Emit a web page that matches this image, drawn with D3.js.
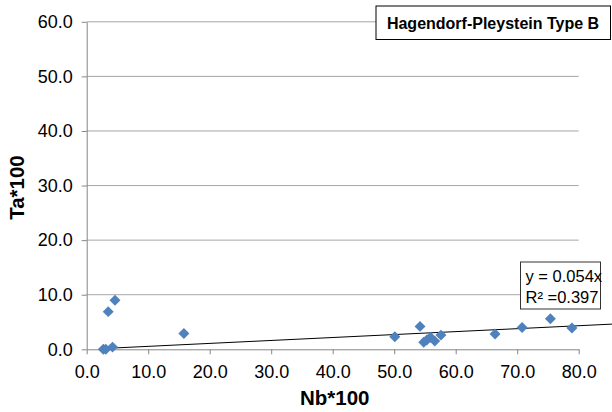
<!DOCTYPE html>
<html>
<head>
<meta charset="utf-8">
<script src="https://cdn.jsdelivr.net/npm/d3@7"></script>
<style>
	html, body { margin: 0; padding: 0; background: #fff; }
	svg { display: block; font-family: 'Liberation Sans', Arial, Helvetica, sans-serif; }
</style>
</head>
<body>
<div id="app"></div>
<script>
// points (Nb*100, Ta*100)
const nbValues = [2.7, 3.1, 3.5, 4.2, 4.6, 15.8, 50.1, 54.2, 54.8, 55.3, 55.9, 56.6, 57.6, 66.4, 70.8, 75.4, 78.9];
const taValues = [0.0, 0.0, 6.9, 0.4, 9.0, 2.9, 2.3, 4.2, 1.3, 1.7, 2.2, 1.5, 2.6, 2.8, 4.0, 5.6, 3.9];

const xTicks = [0, 10, 20, 30, 40, 50, 60, 70, 80];
const yTicks = [0, 10, 20, 30, 40, 50, 60];

// linear trend through the origin, as in the label
const slope = 0.054;
const trendLabel = ['y = 0.054x', 'R\u00b2 =0.397'];
const seriesName = 'Hagendorf-Pleystein Type B';

const width = 612;
const height = 412;
const margin = { top: 21.8, right: 33.3, bottom: 62.7, left: 86.7 };

const app = d3.select('div#app');

const svg = app
	.append('svg')
	.attr('width', width)
	.attr('height', height);

const x = d3
	.scaleLinear()
	.domain([0, 80])
	.range([margin.left, width - margin.right]);

const y = d3
	.scaleLinear()
	.domain([0, 60])
	.range([height - margin.bottom, margin.top]);

const fmt = d3.format('.1f');

// horizontal gridlines
svg
	.append('g')
	.selectAll('line')
	.data(yTicks.filter((d) => d > 0))
	.join('line')
	.attr('x1', x(0))
	.attr('x2', x(80))
	.attr('y1', (d) => y(d))
	.attr('y2', (d) => y(d))
	.attr('stroke', '#a6a6a6')
	.attr('stroke-width', 1);

// axes
const styleAxis = (g) => {
	g.select('.domain').attr('stroke', '#868686');
	g.selectAll('.tick line').attr('stroke', '#868686');
	g.selectAll('.tick text')
		.attr('fill', '#000')
		.style('font-size', '18px');
};

svg
	.append('g')
	.attr('transform', `translate(0, ${y(0)})`)
	.call(
		d3.axisBottom(x).tickValues(xTicks).tickFormat(fmt).tickSize(5).tickSizeOuter(0).tickPadding(11),
	)
	.call(styleAxis);

svg
	.append('g')
	.attr('transform', `translate(${x(0)}, 0)`)
	.call(
		d3.axisLeft(y).tickValues(yTicks).tickFormat(fmt).tickSize(5).tickSizeOuter(0).tickPadding(9),
	)
	.call(styleAxis);

// axis titles
svg
	.append('text')
	.attr('x', (x(0) + x(80)) / 2 + 2)
	.attr('y', 405)
	.attr('text-anchor', 'middle')
	.style('font-size', '20.5px')
	.style('font-weight', 'bold')
	.text('Nb*100');

svg
	.append('text')
	.attr('transform', `translate(24, ${y(30) + 2}) rotate(-90)`)
	.attr('text-anchor', 'middle')
	.style('font-size', '20.5px')
	.style('font-weight', 'bold')
	.text('Ta*100');

// points
const points = nbValues.map((d, i) => ({ nb: d, ta: taValues[i] }));

// trendline from smallest Nb onward, clipped by the svg edge
const xMin = d3.min(nbValues);
svg
	.append('line')
	.attr('x1', x(xMin))
	.attr('y1', y(slope * xMin))
	.attr('x2', x(95))
	.attr('y2', y(slope * 95))
	.attr('stroke', '#000')
	.attr('stroke-width', 1);

const diamond = d3.symbol().type(d3.symbolSquare).size(60);

svg
	.append('g')
	.selectAll('path')
	.data(points)
	.join('path')
	.attr('d', diamond)
	.attr('transform', (d) => `translate(${x(d.nb)}, ${y(d.ta)}) rotate(45)`)
	.attr('fill', '#4f81bd');

// trendline label box
const eq = svg.append('g').attr('transform', 'translate(520.5, 262)');
eq.append('rect')
	.attr('width', 80)
	.attr('height', 47)
	.attr('fill', '#fff')
	.attr('stroke', '#333')
	.attr('stroke-width', 1);
eq.selectAll('text')
	.data(trendLabel)
	.join('text')
	.attr('x', 5)
	.attr('y', (d, i) => 19.5 + i * 21.5)
	.style('font-size', '16.5px')
	.text((d) => d);

// series title box
const title = svg.append('g').attr('transform', 'translate(376, 6)');
title
	.append('rect')
	.attr('width', 234.5)
	.attr('height', 33.5)
	.attr('fill', '#fff')
	.attr('stroke', '#000')
	.attr('stroke-width', 1);
title
	.append('text')
	.attr('x', 117)
	.attr('y', 23)
	.attr('text-anchor', 'middle')
	.style('font-size', '16px')
	.style('font-weight', 'bold')
	.text(seriesName);
</script>
</body>
</html>
